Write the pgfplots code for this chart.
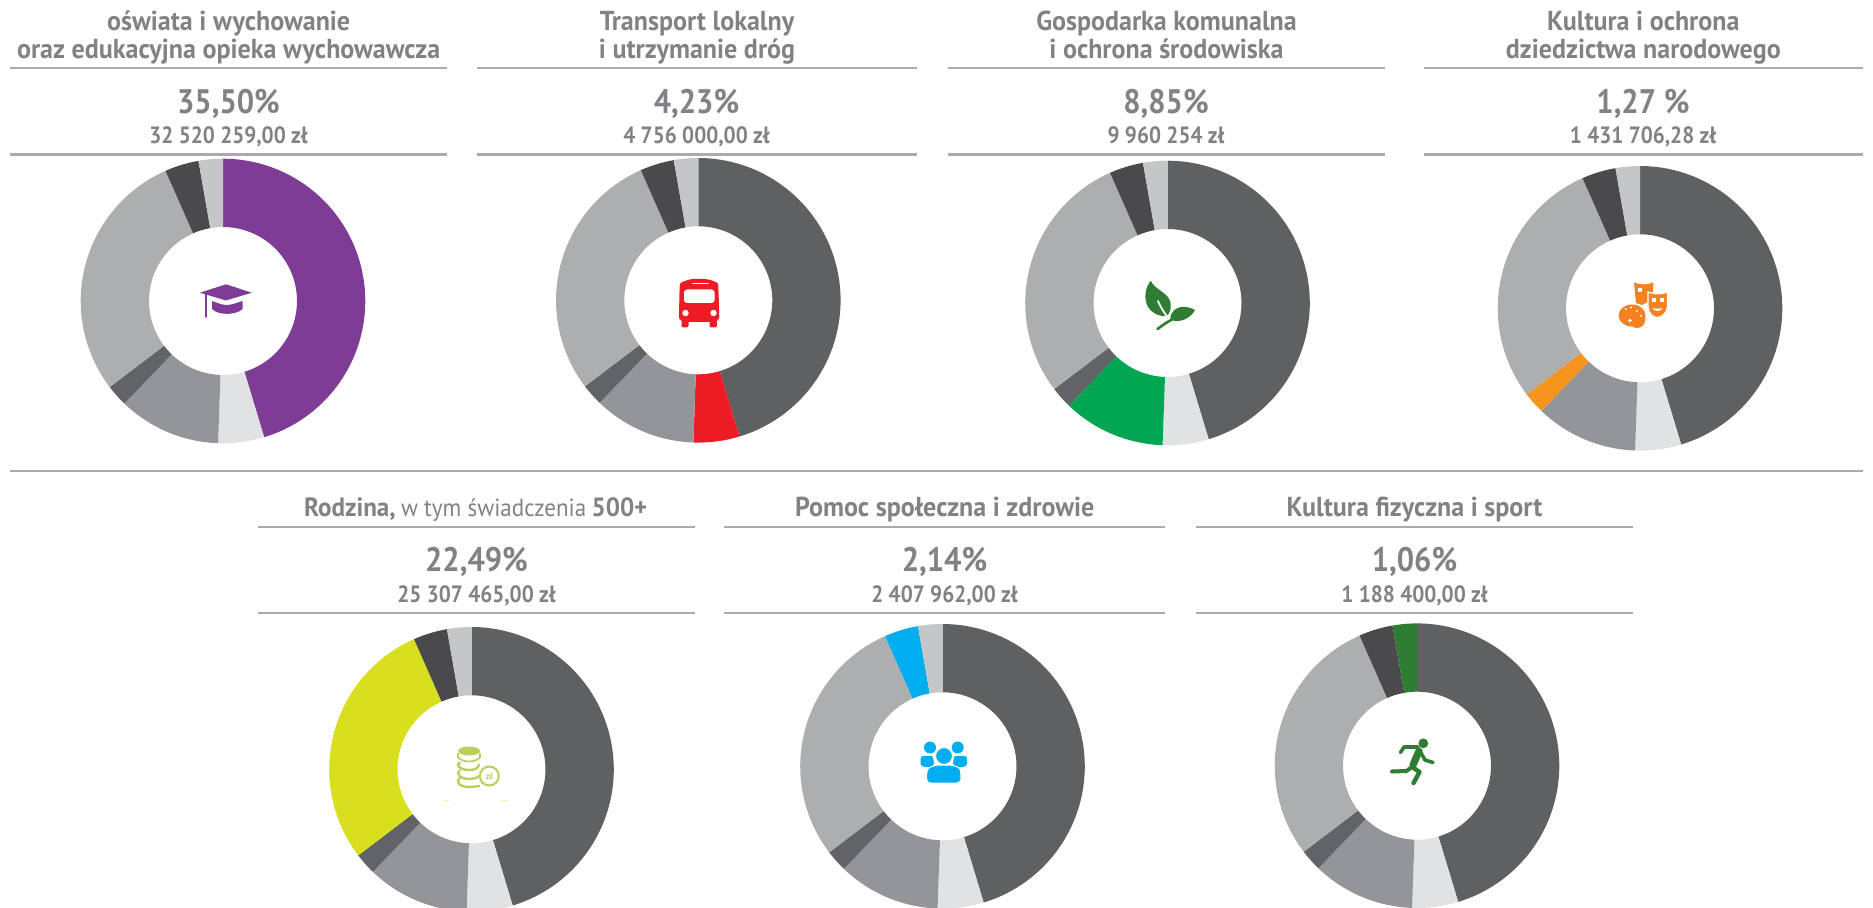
\documentclass[border=0pt]{standalone}
\usepackage{fontspec}
\usepackage{pgfplots}
\pgfplotsset{compat=1.18}
\setmainfont{PT Sans}
\newfontfamily\hd{PT Sans}[FakeStretch=0.93]
\newfontfamily\hdb{PT Sans Bold}[FakeStretch=0.95]
\newfontfamily\hdc{PT Sans Bold}[FakeStretch=0.9]
\newcommand\ttl{\hdb\fontsize{13.7}{15}\selectfont}
\newcommand\ttr{\hd\fontsize{12.4}{15}\selectfont}
\newcommand\pct{\hdc\fontsize{17}{20}\selectfont}
\newcommand\amt{\hdc\fontsize{11.8}{14}\selectfont}

\definecolor{txt}{HTML}{808285}
\definecolor{rule}{HTML}{A9ABAE}
\definecolor{slice1}{HTML}{5F6062}
\definecolor{slice2}{HTML}{E1E2E4}
\definecolor{slice3}{HTML}{939598}
\definecolor{slice4}{HTML}{626366}
\definecolor{slice5}{HTML}{ADAEB0}
\definecolor{slice6}{HTML}{4A4A4C}
\definecolor{slice7}{HTML}{C5C6C8}
\definecolor{purple1}{HTML}{7F3C96}
\definecolor{red1}{HTML}{ED1C24}
\definecolor{green1}{HTML}{00A651}
\definecolor{orange1}{HTML}{F7941D}
\definecolor{orange2}{HTML}{F58220}
\definecolor{yellow1}{HTML}{D7DF1E}
\definecolor{coin}{HTML}{B9D05A}
\definecolor{blue1}{HTML}{00AEEF}
\definecolor{green2}{HTML}{2E7D32}

% slice shares in percent, clockwise from the top
\def\shares{45.33,5.22,11.64,2.47,28.72,3.86,2.76}

% centre x, centre y (px), slice in colour, its colour
\newcommand\donut[4]{%
  \begin{axis}[hide axis, scale only axis, width=142.3pt, height=142.3pt,
      xmin=-1, xmax=1, ymin=-1, ymax=1, clip=false,
      anchor=center, at={(#1*0.5pt,-#2*0.5pt)}]
    \gdef\ang{0}
    \foreach \s [count=\i] in \shares {
      \pgfmathsetmacro\angb{\ang+3.6*\s}
      \pgfmathtruncatemacro\n{ceil(3.6*\s/2)}
      \gdef\pts{}
      \foreach \k in {0,...,\n} {
        \pgfmathsetmacro\t{\ang+(\angb-\ang)*\k/\n}
        \pgfmathsetmacro\qx{sin(\t)}
        \pgfmathsetmacro\qy{cos(\t)}
        \xdef\pts{\pts (\qx,\qy)}
      }
      \foreach \k in {\n,...,0} {
        \pgfmathsetmacro\t{\ang+(\angb-\ang)*\k/\n}
        \pgfmathsetmacro\qx{0.52*sin(\t)}
        \pgfmathsetmacro\qy{0.52*cos(\t)}
        \xdef\pts{\pts (\qx,\qy)}
      }
      \edef\col{\ifnum\i=#3 #4\else slice\i\fi}
      \edef\temp{\noexpand\addplot[fill=\col, draw=none, forget plot] coordinates {\pts};}
      \temp
      \xdef\ang{\angb}
    }
  \end{axis}%
}
\newcommand\hr[3]{\draw[rule, line width=1.2pt] (#1,#3) -- (#2,#3);}

\begin{document}
\begin{tikzpicture}
\useasboundingbox (0,0) rectangle (936.5pt,-454pt);
\clip (0,0) rectangle (936.5pt,-454pt);

\donut{223}{301}{1}{purple1}
\donut{698.3}{300.3}{2}{red1}
\donut{1167.5}{303}{3}{green1}
\donut{1640}{308.3}{4}{orange1}
\donut{471.5}{769.3}{5}{yellow1}
\donut{942.5}{766.3}{6}{blue1}
\donut{1417}{765.7}{7}{green2}

\begin{scope}[x=0.5pt, y=-0.5pt, every node/.style={anchor=base, inner sep=0pt, text=txt}]
% rules
\hr{10.3}{447}{68}\hr{10.3}{447}{154.5}
\hr{477}{917.3}{68}\hr{477}{917.3}{154.5}
\hr{948}{1385}{68}\hr{948}{1385}{154.5}
\hr{1424.3}{1862.7}{68}\hr{1424.3}{1862.7}{154.5}
\hr{10}{1863}{471.3}
\hr{258.3}{695}{527.3}\hr{258.3}{695}{613}
\hr{724}{1165}{527.3}\hr{724}{1165}{613}
\hr{1195.7}{1632.7}{527.3}\hr{1195.7}{1632.7}{613}

% upper row
\node at (228.7,30.7) {\ttl oświata i wychowanie};
\node at (228.7,58.3) {\ttl oraz edukacyjna opieka wychowawcza};
\node at (228.5,114) {\pct 35,50\%};
\node at (228.5,143.3) {\amt 32 520 259,00 zł};
\node at (697,30.7) {\ttl Transport lokalny};
\node at (697,58.3) {\ttl i utrzymanie dróg};
\node at (696.5,114) {\pct 4,23\%};
\node at (696.5,143.3) {\amt 4 756 000,00 zł};
\node at (1166.5,30.7) {\ttl Gospodarka komunalna};
\node at (1166.5,58.3) {\ttl i ochrona środowiska};
\node at (1166,114) {\pct 8,85\%};
\node at (1166,143.3) {\amt 9 960 254 zł};
\node at (1643.3,30.7) {\ttl Kultura i ochrona};
\node at (1643.3,58.3) {\ttl dziedzictwa narodowego};
\node at (1643,114) {\pct 1,27 \%};
\node at (1643,143.3) {\amt 1 431 706,28 zł};
% lower row
\node at (475.8,516.7) {{\hdb\fontsize{13.2}{15}\selectfont Rodzina,} {\ttr w tym świadczenia} {\hdb\fontsize{13.2}{15}\selectfont 500+}};
\node at (476.5,571.7) {\pct 22,49\%};
\node at (476.5,602.3) {\amt 25 307 465,00 zł};
\node at (944.7,516.7) {\ttl Pomoc społeczna i zdrowie};
\node at (944.5,571.7) {\pct 2,14\%};
\node at (944.5,602.3) {\amt 2 407 962,00 zł};
\node at (1414.5,516.7) {\ttl Kultura fizyczna i sport};
\node at (1414.5,571.7) {\pct 1,06\%};
\node at (1414.5,602.3) {\amt 1 188 400,00 zł};

% icons
% cap
\fill[purple1] (200,292.7) -- (226,284.3) -- (251.7,292.7) -- (226,300.5) -- cycle;
\fill[purple1] (212,301) .. controls (218,303) and (222,305) .. (226,305) .. controls (232,305) and (236,303) .. (242.5,301)
  -- (242.5,309) .. controls (236,315.5) and (218,315.5) .. (212,309) -- cycle;
\draw[purple1, line width=1pt, line cap=round] (206,294) -- (206,317);
% bus
\fill[red1, rounded corners=3pt] (679,316) -- (679.5,290) .. controls (680,282) and (690,279) .. (699,279) .. controls (708,279) and (718,282) .. (718.5,290) -- (719.3,316) -- (719.3,322) -- (679,322) -- cycle;
\fill[red1, rounded corners=1pt] (681.5,320) rectangle (688.5,327.5);
\fill[red1, rounded corners=1pt] (709.5,320) rectangle (717,327.5);
\fill[white, rounded corners=1.5pt] (684,289.5) rectangle (714.5,303);
\fill[white] (691.5,283) rectangle (709,284.4);
\fill[white] (685.5,313) circle (3.2);
\fill[white] (713.5,313) circle (3.2);
% leaves
\fill[green2] (1150.7,280.7) .. controls (1146,287) and (1144,295) .. (1146,302) .. controls (1148,310) and (1155,315) .. (1162,316)
  .. controls (1170,318) and (1172,308) .. (1170,301) .. controls (1167,292) and (1155,290) .. (1150.7,280.7) -- cycle;
\fill[green2] (1195,310) .. controls (1186,305) and (1176,306) .. (1172,313) .. controls (1170,316) and (1170,319) .. (1171,320)
  .. controls (1180,323) and (1190,319) .. (1195,310) -- cycle;
\draw[green2, line width=1.3pt, line cap=round] (1157.5,329) .. controls (1163,325) and (1167,322) .. (1172,319.5);
\draw[white, line width=0.9pt, line cap=round] (1158,301) .. controls (1160,306) and (1163,311) .. (1168,318);
% masks
\fill[orange2] (1634,282.5) .. controls (1640,285) and (1647,285) .. (1653.5,282.5) -- (1652.5,296) .. controls (1652,300) and (1646,303) .. (1642,305) -- (1636,303) -- cycle;
\fill[white] (1638,288.5) rectangle (1642,292.5);
\fill[orange2, draw=white, line width=0.6pt] (1648,292) .. controls (1654,294.5) and (1661,294.5) .. (1667.5,292) -- (1667.5,306) .. controls (1667.5,313) and (1661,317.5) .. (1657.5,317.5) .. controls (1653,317.5) and (1648,313) .. (1648,306) -- cycle;
\fill[white] (1652,298.5) rectangle (1655.5,302);
\fill[white] (1660,298.5) rectangle (1663.5,302);
\fill[white] (1652.5,308) .. controls (1655,309) and (1660,309) .. (1662.5,308) .. controls (1661,312) and (1654,312) .. (1652.5,308) -- cycle;
\fill[orange2] (1632,315.5) ellipse (13.5 and 11);
\fill[orange2] (1637,319) ellipse (8.5 and 9);
\fill[white] (1626,309) circle (1.2);
\fill[white] (1631,307.5) circle (1.2);
\fill[white] (1637,311) circle (1.2);
\fill[white] (1641,316) circle (1.2);
\fill[white] (1630,320.5) circle (1.8);
% coins
\fill[coin] (469,751) ellipse (11 and 4.5);
\draw[coin, line width=0.9pt] (458,753) -- (458,757) .. controls (462,763) and (476,763) .. (480,757) -- (480,753);
\draw[coin, line width=1.2pt] (460,762) .. controls (455,765) and (460,770) .. (469,770) .. controls (475,770) and (479,768) .. (479,764);
\draw[coin, line width=1.2pt] (460,770) .. controls (455,773) and (460,779) .. (469,779) .. controls (473,779) and (477,778) .. (479,776);
\draw[coin, line width=1.2pt] (460,778) .. controls (455,782) and (460,787) .. (469,787) -- (480,786);
\draw[coin, line width=1pt] (489.3,776) circle (9.5);
\node[text=coin, anchor=center] at (489.3,776) {\hdb\fontsize{4.5}{5}\selectfont zł};
\draw[yellow1!45, line width=0.4pt] (444,800) -- (449,800);
\draw[yellow1!45, line width=0.4pt] (502,800) -- (507,800);
% people
\fill[blue1] (930,747.5) circle (6);
\fill[blue1] (957.7,747.5) circle (6);
\fill[blue1, rounded corners=2pt] (920.5,767) -- (920.5,761) .. controls (921,755.5) and (932,755.5) .. (934,760) -- (934,767) -- cycle;
\fill[blue1, rounded corners=2pt] (967,767) -- (967,761) .. controls (966.5,755.5) and (955,755.5) .. (953,760) -- (953,767) -- cycle;
\fill[blue1, draw=white, line width=0.5pt] (944,756) circle (8.5);
\fill[blue1, draw=white, line width=0.5pt, rounded corners=2pt] (926.5,783) -- (926.5,774) .. controls (928,767) and (935,765) .. (944,765) .. controls (953,765) and (960,767) .. (961,774) -- (961,783) -- cycle;
% runner
\fill[green2] (1423.3,743.3) circle (4.9);
\draw[green2, line width=3.6pt, line cap=round, line join=round] (1419,751) -- (1413,765);
\draw[green2, line width=1.8pt, line cap=round, line join=round] (1420,751) -- (1425,760) -- (1433,762.5);
\draw[green2, line width=1.8pt, line cap=round, line join=round] (1418,747) -- (1404,747) -- (1400.5,752.5);
\draw[green2, line width=2pt, line cap=round, line join=round] (1412,767) -- (1406.5,771) -- (1392,771.5);
\draw[green2, line width=2.2pt, line cap=round, line join=round] (1412,767) -- (1419.5,772) -- (1413.5,783);
\end{scope}
\end{tikzpicture}
\end{document}
